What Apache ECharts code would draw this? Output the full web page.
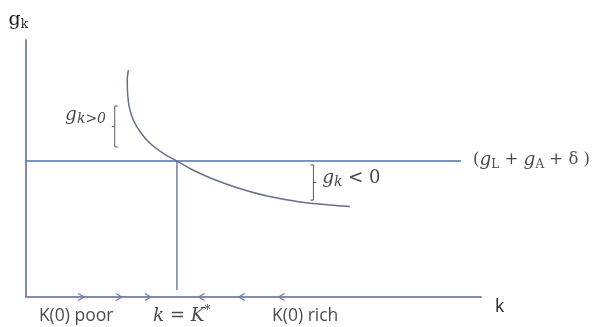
<!DOCTYPE html>
<html>
<head>
<meta charset="utf-8">
<script src="https://cdn.jsdelivr.net/npm/echarts@6/dist/echarts.min.js"></script>
<style>
  html, body { margin: 0; padding: 0; background: #fff; }
  #main { width: 600px; height: 327px; }
</style>
</head>
<body>
<div id="main"></div>
<script>
// k on x (0..12), g on y (0..10)
const kStar = 3.98;
const gLine = 5.29;         // g_L + g_A + delta
const gLineEnd = 11.47;     // where the flat line stops
const curveK = [2.70, 2.67, 2.68, 2.72, 2.83, 3.01, 3.27, 3.62, 3.98, 4.40, 4.93, 5.59, 6.36, 7.23, 8.02, 8.54];
const curveG = [8.83, 8.44, 7.94, 7.41, 6.89, 6.43, 5.98, 5.59, 5.29, 4.94, 4.59, 4.24, 3.93, 3.70, 3.58, 3.52];

// arrows along the k axis: 1 = points right, -1 = points left
const arrowK = [1.53, 2.53, 3.29, 4.55, 5.61, 6.66];
const arrowDir = [1, 1, 1, -1, -1, -1];

// brackets: x, top, bottom, side (-1 = "[" , 1 = "]")
const bracketK = [2.34, 7.58];
const bracketTop = [7.43, 5.14];
const bracketBottom = [5.84, 3.77];
const bracketSide = [-1, 1];

// annotation labels (anchored at left / middle)
const labelText = [
  '{i|g}{si|k>0}',
  '{i|g}{si|k}{m| < 0}',
  '{n|(}{i|g}{s|L}{n| + }{i|g}{s|A}{n| + δ )}',
  '{t|K(0) poor}',
  '{i|k}{m| = }{i|K}{sup|*}',
  '{t|K(0) rich}'
];
const labelK = [1.03, 7.81, 11.79, 0.34, 3.35, 6.49];
const labelG = [7.08, 4.63, 5.33, -0.74, -0.74, -0.74];

const serif = 'DejaVu Serif';
const ink = '#1a1a1a';
const richStyles = {
  i: { fontFamily: serif, fontStyle: 'italic', fontSize: 18.5, color: ink, lineHeight: 22 },
  m: { fontFamily: serif, fontSize: 18, color: ink, lineHeight: 22 },
  n: { fontFamily: serif, fontSize: 16.5, color: ink, lineHeight: 22 },
  s: { fontFamily: serif, fontSize: 12, color: ink, lineHeight: 12, verticalAlign: 'bottom' },
  si: { fontFamily: serif, fontStyle: 'italic', fontSize: 14, color: ink, lineHeight: 12, verticalAlign: 'bottom' },
  sup: { fontFamily: serif, fontSize: 12, color: ink, lineHeight: 14, verticalAlign: 'top' },
  t: { fontFamily: 'Open Sans', fontSize: 17.5, color: ink },
  up: { fontFamily: serif, fontSize: 19, color: ink, lineHeight: 22 },
  us: { fontFamily: serif, fontSize: 12, color: ink, lineHeight: 12, verticalAlign: 'bottom' }
};

const chart = echarts.init(document.getElementById('main'));

const axisColor = '#7f8cb2';

chart.setOption({
  animation: false,
  grid: { left: 26, right: 119, top: 40, bottom: 30 },
  xAxis: {
    type: 'value', min: 0, max: 12,
    name: '{t|k}',
    nameLocation: 'end',
    nameGap: 14,
    nameTextStyle: { rich: richStyles, align: 'left', verticalAlign: 'middle', padding: [20, 0, 0, 0] },
    axisLine: { lineStyle: { color: axisColor, width: 2 } },
    axisTick: { show: false }, axisLabel: { show: false }, splitLine: { show: false }
  },
  yAxis: {
    type: 'value', min: 0, max: 10,
    name: '{up|g}{us|k}',
    nameLocation: 'end',
    nameGap: 20,
    nameTextStyle: { rich: richStyles, align: 'right', verticalAlign: 'middle', padding: [0, -2, 0, 0] },
    axisLine: { show: true, lineStyle: { color: axisColor, width: 2 } },
    axisTick: { show: false }, axisLabel: { show: false }, splitLine: { show: false }
  },
  series: [
    {
      type: 'line',
      data: [[0, gLine], [gLineEnd, gLine]],
      symbol: 'none',
      lineStyle: { color: '#4a72b6', width: 1.5 }
    },
    {
      type: 'line',
      data: [[kStar, 0.27], [kStar, gLine]],
      symbol: 'none',
      lineStyle: { color: '#75819e', width: 1.5 }
    },
    {
      type: 'line',
      data: curveK.map((k, i) => [k, curveG[i]]),
      symbol: 'none',
      smooth: 0.3,
      lineStyle: { color: '#66708c', width: 1.5 }
    },
    {
      type: 'custom',
      data: arrowK.map((k, i) => [k, arrowDir[i]]),
      renderItem: function (params, api) {
        const p = api.coord([api.value(0), 0]);
        const d = api.value(1);
        return {
          type: 'polyline',
          shape: { points: [[p[0] - d * 6, p[1] - 3.5], [p[0], p[1]], [p[0] - d * 6, p[1] + 3.5]] },
          style: { stroke: '#6f7ea8', lineWidth: 1.3, fill: null }
        };
      },
      z: 5
    },
    {
      type: 'custom',
      data: bracketK.map((k, i) => [k, bracketTop[i], bracketBottom[i], bracketSide[i]]),
      renderItem: function (params, api) {
        const top = api.coord([api.value(0), api.value(1)]);
        const bot = api.coord([api.value(0), api.value(2)]);
        const s = api.value(3);
        const midY = (top[1] + bot[1]) / 2;
        return {
          type: 'group',
          children: [
            { type: 'polyline', shape: { points: [[top[0] - s * 3, top[1]], [top[0], top[1]], [bot[0], bot[1]], [bot[0] - s * 3, bot[1]]] },
              style: { stroke: '#555b66', lineWidth: 1, fill: null } },
            { type: 'line', shape: { x1: top[0], y1: midY, x2: top[0] + s * 3, y2: midY },
              style: { stroke: '#555b66', lineWidth: 1 } }
          ]
        };
      }
    },
    {
      type: 'scatter',
      clip: false,
      symbolSize: 0,
      data: labelK.map((k, i) => ({ value: [k, labelG[i]], text: labelText[i] })),
      label: {
        show: true,
        position: 'inside',
        align: 'left',
        verticalAlign: 'middle',
        formatter: p => p.data.text,
        rich: richStyles
      }
    }
  ]
});
</script>
</body>
</html>
